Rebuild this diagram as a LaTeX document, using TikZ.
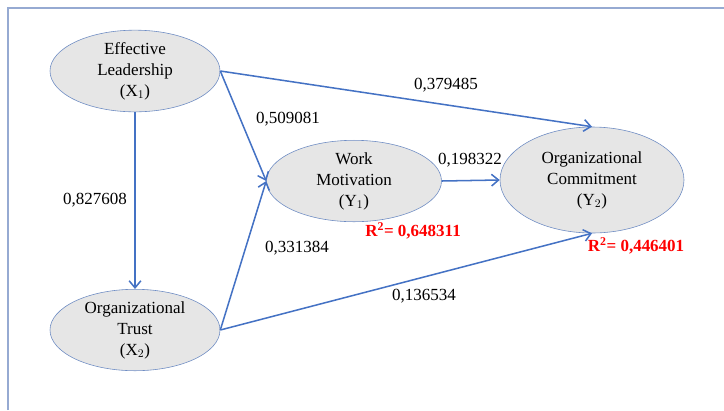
\documentclass[tikz,border=0pt]{standalone}
\usepackage{fontspec}
\setmainfont{Liberation Serif}
\usetikzlibrary{arrows, arrows.meta, shapes, positioning}

\definecolor{pathblue}{RGB}{68,114,196}
\definecolor{rimblue}{RGB}{110,140,195}
\definecolor{framblue}{RGB}{150,170,210}
\definecolor{latgray}{RGB}{230,230,230}

\tikzset{
  latent/.style={ellipse, draw=rimblue, fill=latgray, line width=0.5pt,
    align=center, inner sep=0pt, font=\fontsize{14.5}{18}\selectfont},
  path/.style={-{Straight Barb[length=6pt, width=10pt]}, draw=pathblue, line width=1.3pt},
  coef/.style={font=\fontsize{14.5}{16}\selectfont},
  rsq/.style={text=red, font=\fontsize{14.5}{16}\selectfont\bfseries}
}

\begin{document}
\begin{tikzpicture}[x=0.03cm, y=-0.03cm]
            \useasboundingbox (0,0) rectangle (724,410);
            \draw[framblue, line width=1.5pt] (8,410) -- (8,8) -- (724,8);

            \node[latent, minimum width=170*0.03cm, minimum height=78*0.03cm] (el) at (135, 71)
                {Effective\\Leadership\\(X$_1$)};
            \node[latent, minimum width=170*0.03cm, minimum height=78*0.03cm] (ot) at (135, 330)
                {Organizational\\Trust\\(X$_2$)};
            \node[latent, minimum width=175*0.03cm, minimum height=78*0.03cm] (wm) at (354, 181)
                {Work\\Motivation\\(Y$_1$)};
            \node[latent, minimum width=184*0.03cm, minimum height=106*0.03cm] (oc) at (592, 180)
                {Organizational\\Commitment\\(Y$_2$)};

            \draw[path] (el.south) -- (ot.north);
            \draw[path] (el.east) -- (wm.west);
            \draw[path] (el.east) -- (oc.north);
            \draw[path] (ot.east) -- (wm.west);
            \draw[path] (ot.east) -- (oc.south);
            \draw[path] (wm.east) -- (oc.west);

            \node[coef] (c1) at (95, 200) {0,827608};
            \node[coef] (c2) at (288, 119) {0,509081};
            \node[coef] (c3) at (446, 85) {0,379485};
            \node[coef] (c4) at (297, 248) {0,331384};
            \node[coef] (c5) at (424, 296) {0,136534};
            \node[coef] (c6) at (470, 160) {0,198322};

            \node[rsq] (r1) at (413, 231) {R\textsuperscript{2}= 0,648311};
            \node[rsq] (r2) at (636, 246) {R\textsuperscript{2}= 0,446401};
        \end{tikzpicture}
\end{document}
